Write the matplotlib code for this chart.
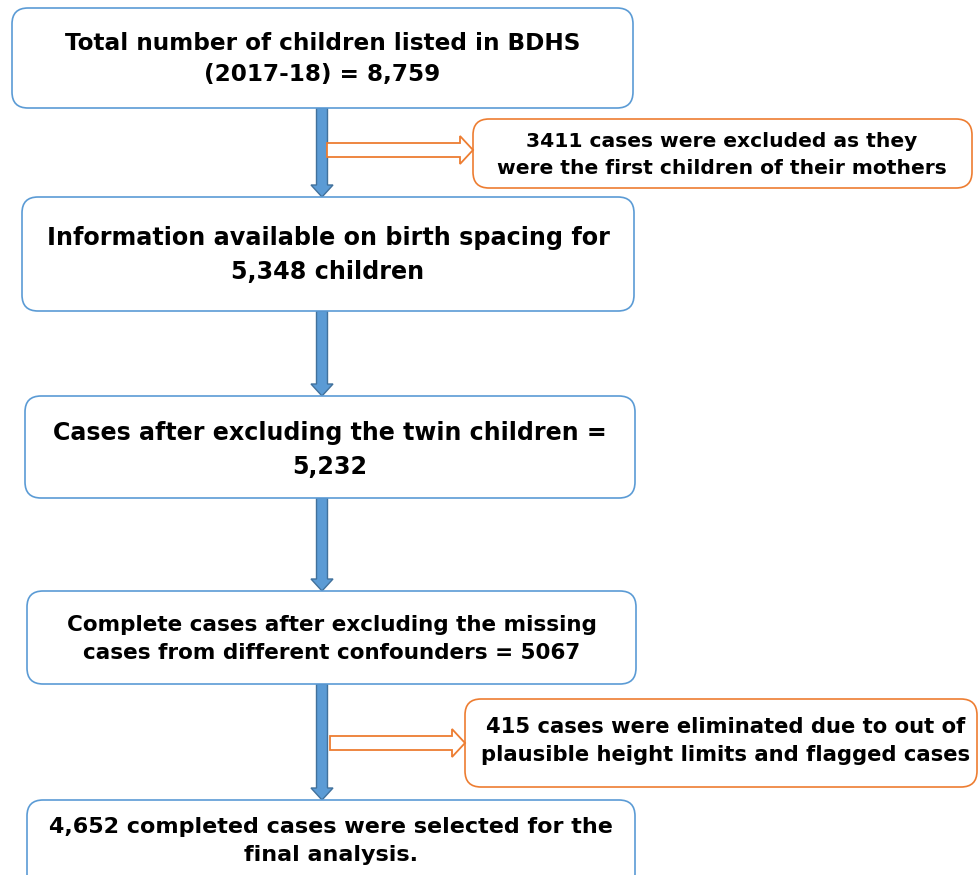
import matplotlib
matplotlib.use('Agg')
from matplotlib import pyplot as plt
from matplotlib.patches import FancyBboxPatch, FancyArrow

# flow steps (main column) and exclusions (side boxes)
steps = ['Total number of children listed in BDHS\n(2017-18) = 8,759',
         'Information available on birth spacing for\n5,348 children',
         'Cases after excluding the twin children =\n5,232',
         'Complete cases after excluding the missing\ncases from different confounders = 5067',
         '4,652 completed cases were selected for the\nfinal analysis.']
exclusions = ['3411 cases were excluded as they\nwere the first children of their mothers',
              '415 cases were eliminated due to out of\nplausible height limits and flagged cases']

# layout in pixels (x0, y0, x1, y1)
step_boxes = [(12, 8, 633, 108), (22, 197, 634, 311), (25, 396, 635, 498),
              (27, 591, 636, 684), (27, 800, 635, 890)]
step_fonts = [16.7, 17.2, 17.1, 15.5, 16.0]
step_yc = [59, 255, 450, 639, 841]
excl_boxes = [(473, 119, 972, 188), (465, 699, 977, 787)]
excl_fonts = [14.6, 15.2]
excl_yc = [155, 741]
excl_xc = [722, 726]
excl_arrow_y = [150, 743]
excl_arrow_x0 = [327, 330]

BLUE = '#5B9BD5'
BLUE_DARK = '#41719C'
ORANGE = '#ED7D31'

fig = plt.figure(figsize=(9.79, 8.75), dpi=100)
ax = fig.add_axes([0, 0, 1, 1])
ax.set_xlim(0, 979)
ax.set_ylim(875, 0)
ax.axis('off')


def box(b, color, lw, text, fs, yc, xc=None):
    x0, y0, x1, y1 = b
    p = FancyBboxPatch((x0, y0), x1 - x0, y1 - y0,
                       boxstyle='round,pad=0,rounding_size=16',
                       facecolor='white', edgecolor=color, linewidth=lw)
    ax.add_patch(p)
    if xc is None:
        xc = (x0 + x1) / 2
    ax.text(xc, yc, text, ha='center', va='center',
            fontsize=fs, fontweight='bold', color='black',
            family='DejaVu Sans', linespacing=1.5)


# blue down arrows between steps
xc = 322
for i in range(len(step_boxes) - 1):
    ytop = step_boxes[i][3]
    ybot = step_boxes[i + 1][1]
    ax.add_patch(FancyArrow(xc, ytop, 0, ybot - ytop, width=11, head_width=22,
                            head_length=12, length_includes_head=True,
                            facecolor=BLUE, edgecolor=BLUE_DARK, linewidth=1))

for b, t, fs, yc in zip(step_boxes, steps, step_fonts, step_yc):
    box(b, BLUE, 1.2, t, fs, yc)

# hollow orange arrows to exclusion boxes
for b, t, fs, yc, xt, y, x0 in zip(excl_boxes, exclusions, excl_fonts, excl_yc,
                                   excl_xc, excl_arrow_y, excl_arrow_x0):
    ax.add_patch(FancyArrow(x0, y, b[0] - x0, 0, width=14, head_width=28,
                            head_length=13, length_includes_head=True,
                            facecolor='white', edgecolor=ORANGE, linewidth=1.3,
                            zorder=3))
    box(b, ORANGE, 1.2, t, fs, yc, xt)

plt.savefig('out.png', dpi=100)
